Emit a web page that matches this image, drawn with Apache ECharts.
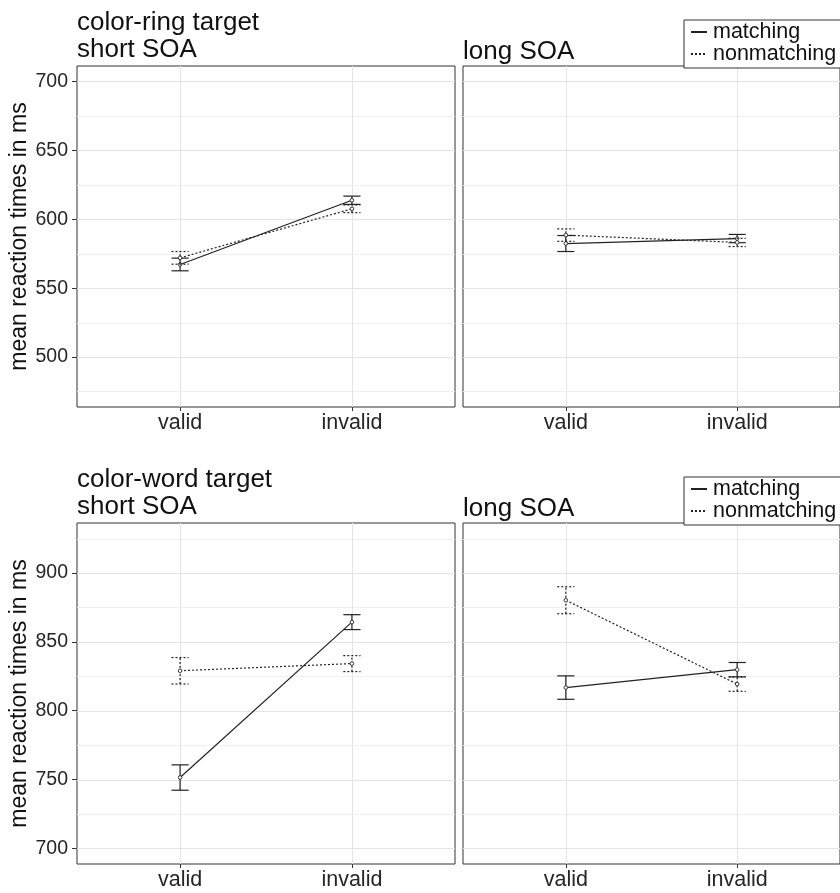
<!DOCTYPE html>
<html>
<head>
<meta charset="utf-8">
<script src="https://cdn.jsdelivr.net/npm/echarts@6/dist/echarts.min.js"></script>
<style>
html,body{margin:0;padding:0;background:#fff;}
#c{width:840px;height:893px;}
</style>
</head>
<body>
<div id="c"></div>
<script>
// ---- data ----
const xCategories = ['valid', 'invalid'];
const seriesNames = ['matching', 'nonmatching'];
const panelTitles = ['color-ring target\nshort SOA', 'long SOA', 'color-word target\nshort SOA', 'long SOA'];
const yAxisTitle = 'mean reaction times in ms';

// color-ring target
const ringShortMatch = [567.2, 613.8];
const ringShortMatchSE = [4.6, 3.0];
const ringShortNon = [572.0, 607.6];
const ringShortNonSE = [4.6, 2.8];
const ringLongMatch = [582.4, 586.0];
const ringLongMatchSE = [5.8, 3.0];
const ringLongNon = [588.5, 583.2];
const ringLongNonSE = [4.5, 3.0];

// color-word target
const wordShortMatch = [751.5, 864.3];
const wordShortMatchSE = [9.2, 5.4];
const wordShortNon = [829.0, 834.2];
const wordShortNonSE = [9.6, 5.8];
const wordLongMatch = [816.8, 829.8];
const wordLongMatchSE = [8.5, 5.2];
const wordLongNon = [880.2, 819.3];
const wordLongNonSE = [9.8, 5.2];

// axis ticks
const ringTicks = [500, 550, 600, 650, 700];
const ringMinorTicks = [475, 525, 575, 625, 675];
const ringLimits = [475, 700];
const wordTicks = [700, 750, 800, 850, 900];
const wordMinorTicks = [725, 775, 825, 875, 925];
const wordLimits = [700, 925];

// ---- layout ----
const INK = '#222';
const FONT = '"Liberation Sans", Arial, Helvetica, sans-serif';
const grids = [
  {left: 77, top: 66, width: 378, height: 341},
  {left: 463, top: 66, width: 379, height: 341},
  {left: 77, top: 523, width: 378, height: 341},
  {left: 463, top: 523, width: 379, height: 341}
];
const panels = [
  {match: ringShortMatch, matchSE: ringShortMatchSE, non: ringShortNon, nonSE: ringShortNonSE, ticks: ringTicks, minor: ringMinorTicks, lim: ringLimits, left: true},
  {match: ringLongMatch, matchSE: ringLongMatchSE, non: ringLongNon, nonSE: ringLongNonSE, ticks: ringTicks, minor: ringMinorTicks, lim: ringLimits, left: false},
  {match: wordShortMatch, matchSE: wordShortMatchSE, non: wordShortNon, nonSE: wordShortNonSE, ticks: wordTicks, minor: wordMinorTicks, lim: wordLimits, left: true},
  {match: wordLongMatch, matchSE: wordLongMatchSE, non: wordLongNon, nonSE: wordLongNonSE, ticks: wordTicks, minor: wordMinorTicks, lim: wordLimits, left: false}
];
const titleTops = [9, 38, 466, 495];
const xPos = xCategories.map((c, i) => i + 1);
const xMin = 0.4, xMax = xCategories.length + 0.6;

function expand(lim) {
  const d = (lim[1] - lim[0]) * 0.05;
  return [lim[0] - d, lim[1] + d];
}

function gridLineRender(kind) {
  return function (params, api) {
    const cs = params.coordSys;
    const major = api.value(2) === 1;
    const style = {stroke: major ? '#e4e4e4' : '#f0f0f0', lineWidth: 1};
    if (kind === 'h') {
      const y = Math.round(api.coord([api.value(0), api.value(1)])[1]) + 0.5;
      return {type: 'line', shape: {x1: cs.x, y1: y, x2: cs.x + cs.width, y2: y}, style: style, silent: true};
    } else {
      const x = Math.round(api.coord([api.value(0), api.value(1)])[0]) + 0.5;
      return {type: 'line', shape: {x1: x, y1: cs.y, x2: x, y2: cs.y + cs.height}, style: style, silent: true};
    }
  };
}

function errRender(dash) {
  return function (params, api) {
    const x = api.value(0), m = api.value(1), se = api.value(2);
    const pm = api.coord([x, m]);
    const pl = api.coord([x, m - se]);
    const ph = api.coord([x, m + se]);
    const w = api.size([0.1, 0])[0] / 2;
    const style = {stroke: INK, lineWidth: 1.2, lineDash: dash};
    return {
      type: 'group',
      children: [
        {type: 'line', shape: {x1: pm[0], y1: pl[1], x2: pm[0], y2: ph[1]}, style: style},
        {type: 'line', shape: {x1: pm[0] - w, y1: pl[1], x2: pm[0] + w, y2: pl[1]}, style: style},
        {type: 'line', shape: {x1: pm[0] - w, y1: ph[1], x2: pm[0] + w, y2: ph[1]}, style: style},
        {type: 'circle', shape: {cx: pm[0], cy: pm[1], r: 1.8}, style: {fill: '#fff', stroke: INK, lineWidth: 0.9}}
      ]
    };
  };
}

const xAxes = [], yAxes = [], series = [], titles = [];
panels.forEach((p, i) => {
  const ext = expand(p.lim);
  xAxes.push({
    type: 'value', gridIndex: i, min: xMin, max: xMax,
    axisLine: {show: false},
    axisTick: {show: true, customValues: xPos, length: 4, lineStyle: {color: '#333', width: 1}},
    axisLabel: {show: true, customValues: xPos, formatter: v => xCategories[Math.round(v) - 1] || '',
      fontSize: 21.5, color: '#262626', fontFamily: FONT, margin: 5},
    splitLine: {show: false}
  });
  yAxes.push({
    type: 'value', gridIndex: i, min: ext[0], max: ext[1],
    axisLine: {show: false},
    axisTick: {show: p.left, customValues: p.ticks, length: 5, lineStyle: {color: '#333', width: 1}},
    axisLabel: {show: p.left, customValues: p.ticks, fontSize: 19.5, color: '#262626', fontFamily: FONT, margin: 9},
    splitLine: {show: false},
    name: p.left ? yAxisTitle : '',
    nameLocation: 'middle', nameRotate: 90, nameGap: 45,
    nameTextStyle: {fontSize: 23, color: '#111', fontFamily: FONT}
  });
  titles.push({
    text: panelTitles[i], left: grids[i].left, top: titleTops[i], padding: 0,
    textStyle: {fontSize: 26, fontWeight: 'normal', color: '#111', fontFamily: FONT, lineHeight: 27}
  });
  // grid lines
  const hData = p.ticks.map(v => [xPos[0], v, 1]).concat(p.minor.map(v => [xPos[0], v, 0]));
  const vData = xPos.map(x => [x, p.lim[0], 1]);
  series.push({type: 'custom', xAxisIndex: i, yAxisIndex: i, renderItem: gridLineRender('h'), data: hData, z: 0, silent: true, clip: true});
  series.push({type: 'custom', xAxisIndex: i, yAxisIndex: i, renderItem: gridLineRender('v'), data: vData, z: 0, silent: true, clip: true});
  // lines
  series.push({
    name: seriesNames[0], type: 'line', xAxisIndex: i, yAxisIndex: i, symbol: 'none',
    data: xPos.map((x, k) => [x, p.match[k]]),
    lineStyle: {color: INK, width: 1.2, type: 'solid'}, itemStyle: {color: INK}, z: 3, silent: true
  });
  series.push({
    name: seriesNames[1], type: 'line', xAxisIndex: i, yAxisIndex: i, symbol: 'none',
    data: xPos.map((x, k) => [x, p.non[k]]),
    lineStyle: {color: INK, width: 1.2, type: [2, 2]}, itemStyle: {color: INK}, z: 3, silent: true
  });
  // error bars + points
  series.push({
    name: seriesNames[0], type: 'custom', xAxisIndex: i, yAxisIndex: i, renderItem: errRender(null),
    data: xPos.map((x, k) => [x, p.match[k], p.matchSE[k]]), z: 4, silent: true
  });
  series.push({
    name: seriesNames[1], type: 'custom', xAxisIndex: i, yAxisIndex: i, renderItem: errRender([2, 2]),
    data: xPos.map((x, k) => [x, p.non[k], p.nonSE[k]]), z: 4, silent: true
  });
});

function makeLegend(top) {
  return {
    show: true, orient: 'vertical', left: 684, top: top,
    data: seriesNames.map(n => ({name: n})),
    itemWidth: 16, itemHeight: 10, itemGap: 0,
    padding: [1, 6, 3, 6],
    borderColor: '#333', borderWidth: 1, backgroundColor: '#fff',
    selectedMode: false,
    itemStyle: {opacity: 0},
    textStyle: {fontSize: 21.5, color: '#111', fontFamily: FONT, lineHeight: 22, padding: [0, 0, 0, 1]},
    inactiveColor: INK
  };
}

const option = {
  animation: false,
  backgroundColor: '#fff',
  textStyle: {fontFamily: FONT},
  title: titles,
  legend: [makeLegend(20), makeLegend(477)],
  grid: grids.map(g => Object.assign({show: true, borderColor: '#333', borderWidth: 1, backgroundColor: 'transparent', containLabel: false}, g)),
  xAxis: xAxes,
  yAxis: yAxes,
  series: series
};

const chart = echarts.init(document.getElementById('c'), null, {renderer: 'canvas'});
chart.setOption(option);
</script>
</body>
</html>
